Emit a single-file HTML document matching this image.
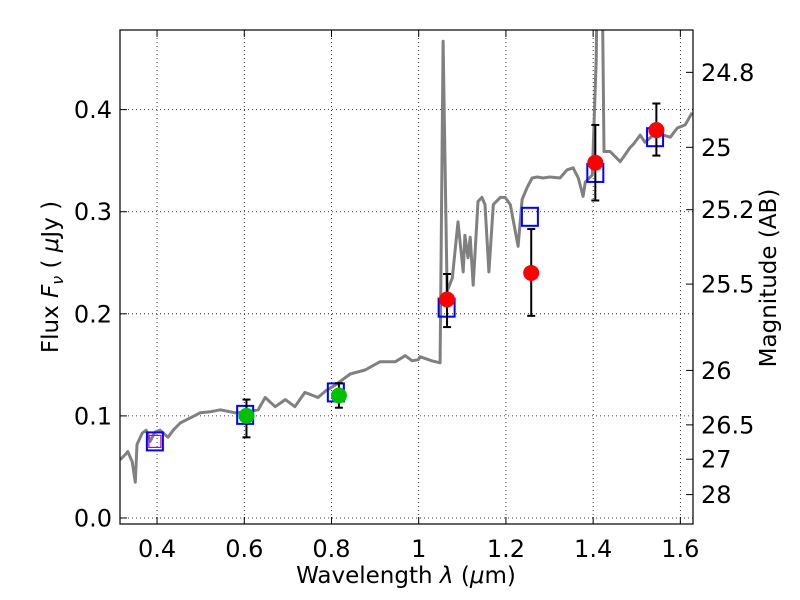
<!DOCTYPE html>
<html><head><meta charset="utf-8"><style>
html,body{margin:0;padding:0;background:#fff;}
svg{display:block;font-family:"DejaVu Sans","Liberation Sans",sans-serif;}
</style></head><body>
<svg id="chart" width="800" height="600" viewBox="0 0 800 600"></svg>
<script>
const specLam=[0.315,0.327,0.333,0.343,0.350,0.354,0.366,0.375,0.384,0.395,0.407,0.425,0.437,0.453,0.476,0.499,0.522,0.545,0.579,0.609,0.632,0.648,0.671,0.694,0.716,0.739,0.769,0.788,0.808,0.843,0.877,0.911,0.946,0.969,0.985,0.999,1.003,1.030,1.049,1.056,1.065,1.077,1.090,1.102,1.106,1.113,1.118,1.125,1.136,1.145,1.152,1.161,1.171,1.187,1.198,1.210,1.228,1.237,1.249,1.260,1.272,1.285,1.301,1.324,1.340,1.354,1.366,1.377,1.382,1.398,1.407,1.409,1.421,1.425,1.439,1.462,1.485,1.492,1.508,1.519,1.538,1.561,1.577,1.593,1.611,1.627];
const specFlux=[0.057,0.062,0.065,0.055,0.035,0.072,0.083,0.086,0.075,0.084,0.086,0.079,0.086,0.093,0.098,0.103,0.104,0.106,0.103,0.104,0.106,0.118,0.109,0.116,0.109,0.123,0.118,0.125,0.130,0.141,0.145,0.153,0.153,0.159,0.154,0.155,0.158,0.154,0.152,0.467,0.222,0.235,0.290,0.241,0.277,0.255,0.275,0.228,0.310,0.314,0.307,0.241,0.307,0.314,0.314,0.307,0.266,0.312,0.324,0.333,0.334,0.333,0.334,0.333,0.341,0.343,0.333,0.315,0.329,0.336,0.449,0.52,0.52,0.359,0.359,0.349,0.363,0.366,0.375,0.368,0.375,0.375,0.373,0.382,0.385,0.397];
const modelLam=[0.395,0.602,0.81,1.064,1.255,1.405,1.542];
const modelFlux=[0.075,0.101,0.123,0.206,0.295,0.338,0.373];
const greenLam=[0.605,0.817];
const greenFlux=[0.100,0.120];
const greenLo=[0.079,0.108];
const greenHi=[0.116,0.132];
const redLam=[1.065,1.258,1.405,1.545];
const redFlux=[0.214,0.240,0.348,0.380];
const redLo=[0.187,0.198,0.311,0.355];
const redHi=[0.239,0.283,0.385,0.406];
const xTicks=[0.4,0.6,0.8,1.0,1.2,1.4,1.6];
const xTickLabels=["0.4","0.6","0.8","1","1.2","1.4","1.6"];
const yTicks=[0.0,0.1,0.2,0.3,0.4];
const yTickLabels=["0.0","0.1","0.2","0.3","0.4"];
const magTicks=[24.8,25,25.2,25.5,26,26.5,27,28];
const magTickLabels=["24.8","25","25.2","25.5","26","26.5","27","28"];

const L=120,R=693,T=30,B=524;
const xMin=0.315,xMax=1.629,yMin=-0.0059,yMax=0.478;
const X=v=>L+(v-xMin)/(xMax-xMin)*(R-L);
const Y=v=>B-(v-yMin)/(yMax-yMin)*(B-T);
const NS="http://www.w3.org/2000/svg";
const svg=document.getElementById('chart');
function mk(tag,attrs,parent){const e=document.createElementNS(NS,tag);for(const k in attrs)e.setAttribute(k,attrs[k]);(parent||svg).appendChild(e);return e;}

const defs=mk('defs',{});
const cp=mk('clipPath',{id:'clip'},defs);
mk('rect',{x:L,y:T,width:R-L,height:B-T},cp);

const grid=mk('g',{});


xTicks.forEach(t=>{mk('line',{x1:X(t),x2:X(t),y1:T,y2:B,stroke:'#000','stroke-width':0.8,'stroke-dasharray':'1,3'},grid);});
yTicks.forEach(t=>{mk('line',{x1:L,x2:R,y1:Y(t),y2:Y(t),stroke:'#000','stroke-width':0.8,'stroke-dasharray':'1,3'},grid);});

const plot=mk('g',{'clip-path':'url(#clip)'});
let d='';specLam.forEach((l,i)=>{d+=(i?'L':'M')+X(l).toFixed(1)+','+Y(specFlux[i]).toFixed(1);});
const sp=mk('path',{d:d,fill:'none',stroke:'#808080','stroke-width':3,'stroke-linejoin':'round'},plot);



const mg=mk('rect',{x:X(0.395)-6,y:Y(0.075)-6,width:12,height:12,fill:'none',stroke:'#c000c0','stroke-width':1.2},plot);



modelLam.forEach((l,i)=>{const r=mk('rect',{x:X(l)-8,y:Y(modelFlux[i])-9,width:16,height:18,fill:'none',stroke:'#0000ff','stroke-width':2},plot);

});

function errbar(l,lo,hi){const g=mk('g',{stroke:'#000','stroke-width':2},plot);


mk('line',{x1:X(l),x2:X(l),y1:Y(lo),y2:Y(hi)},g);
mk('line',{x1:X(l)-4,x2:X(l)+4,y1:Y(lo),y2:Y(lo)},g);
mk('line',{x1:X(l)-4,x2:X(l)+4,y1:Y(hi),y2:Y(hi)},g);}
greenLam.forEach((l,i)=>{errbar(l,greenLo[i],greenHi[i]);const c=mk('circle',{cx:X(l),cy:Y(greenFlux[i]),r:8,fill:'#00c000'},plot);

});
redLam.forEach((l,i)=>{errbar(l,redLo[i],redHi[i]);const c=mk('circle',{cx:X(l),cy:Y(redFlux[i]),r:8,fill:'#ff0000'},plot);

});

const fr=mk('rect',{x:L,y:T,width:R-L,height:B-T,fill:'none',stroke:'#000','stroke-width':1.2});



xTicks.forEach((t,i)=>{mk('line',{x1:X(t),x2:X(t),y1:B,y2:B-7,stroke:'#000'});mk('line',{x1:X(t),x2:X(t),y1:T,y2:T+7,stroke:'#000'});
const tx=mk('text',{x:X(t),y:B+33,'text-anchor':'middle','font-size':24});tx.textContent=xTickLabels[i];

});
yTicks.forEach((t,i)=>{mk('line',{x1:L,x2:L+7,y1:Y(t),y2:Y(t),stroke:'#000'});
const tx=mk('text',{x:L-8,y:Y(t)+8.5,'text-anchor':'end','font-size':24});tx.textContent=yTickLabels[i];

});
magTicks.forEach((m,i)=>{const f=Math.pow(10,(23.9-m)/2.5);const y=Y(f);
mk('line',{x1:R,x2:R-7,y1:y,y2:y,stroke:'#000'});
const tx=mk('text',{x:R+8,y:y+8.5,'font-size':24});tx.textContent=magTickLabels[i];

});
</script>
<svg width="800" height="600" style="position:absolute;left:0;top:0;font-family:'DejaVu Sans','Liberation Sans',sans-serif">
<text x="406" y="583" text-anchor="middle" font-size="23">Wavelength  <tspan font-style="italic">λ</tspan> (<tspan font-style="italic">μ</tspan>m)</text>
<text transform="translate(58,277) rotate(-90)" text-anchor="middle" font-size="23">Flux  <tspan font-style="italic">F</tspan><tspan font-style="italic" font-size="16" dy="5">ν</tspan><tspan dy="-5">  ( </tspan><tspan font-style="italic">μ</tspan>Jy )</text>
<text transform="translate(776,278) rotate(-90)" text-anchor="middle" font-size="23">Magnitude (AB)</text>
</svg>
</body></html>
